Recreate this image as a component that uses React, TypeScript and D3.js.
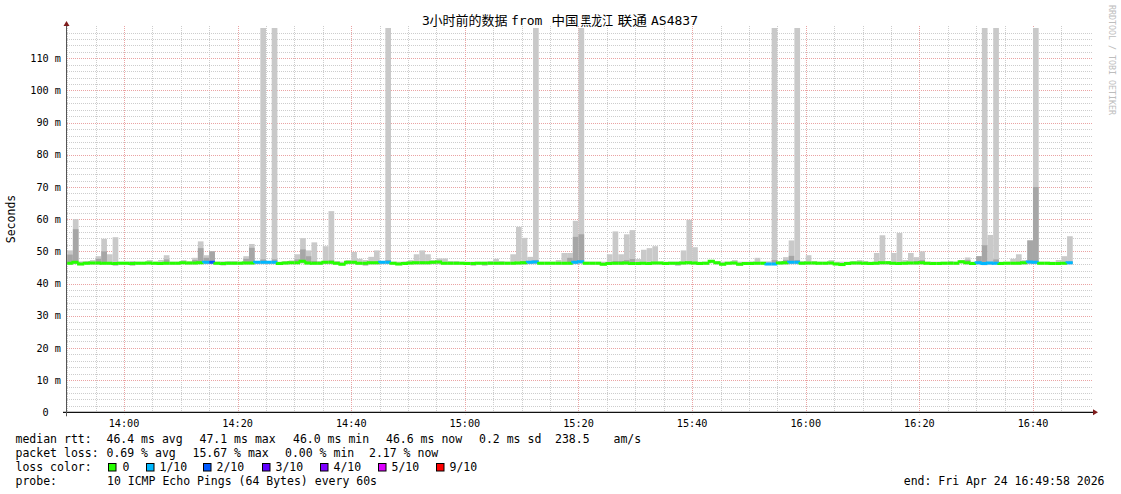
import React from "react";
import * as d3 from "d3";

const W = 1121;
const H = 494;

const startTime = new Date(2026, 3, 24, 13, 49, 58);
const endTime = new Date(2026, 3, 24, 16, 49, 58);
const firstBar = new Date(2026, 3, 24, 13, 50, 0);

// median RTT per minute (ms)
const medianRtt = [
  46.3, 46.6, 46.1, 46.3, 46.4, 46.4, 46.3, 46.3, 46.2, 46.3,
  46.3, 46.2, 46.3, 46.3, 46.4, 46.3, 46.2, 46.3, 46.3, 46.3,
  46.5, 46.4, 46.4, 46.5, 46.6, 46.6, 46.3, 46.2, 46.3, 46.3,
  46.3, 46.4, 46.4, 46.6, 46.6, 46.6, 46.6, 46.2, 46.4, 46.5,
  46.5, 46.9, 46.4, 46.3, 46.3, 46.6, 46.6, 46.3, 46.0, 46.6,
  46.6, 46.3, 46.3, 46.5, 46.5, 46.6, 46.6, 46.3, 46.1, 46.2,
  46.4, 46.5, 46.5, 46.5, 46.6, 46.7, 46.3, 46.3, 46.3, 46.3,
  46.2, 46.2, 46.3, 46.3, 46.3, 46.3, 46.3, 46.3, 46.3, 46.4,
  46.5, 46.6, 46.7, 46.3, 46.3, 46.3, 46.3, 46.3, 46.3, 46.6,
  46.8, 46.3, 46.3, 46.3, 46.0, 46.2, 46.3, 46.3, 46.4, 46.2,
  46.2, 46.3, 46.2, 46.4, 46.4, 46.2, 46.3, 46.3, 46.4, 46.5,
  46.4, 46.2, 46.3, 46.9, 46.5, 46.0, 46.3, 46.4, 46.0, 46.2,
  46.2, 46.3, 46.3, 46.1, 46.1, 46.4, 46.5, 46.6, 46.6, 46.3,
  46.4, 46.4, 46.3, 46.3, 46.4, 46.1, 45.9, 46.2, 46.4, 46.4,
  46.3, 46.2, 46.3, 46.5, 46.5, 46.3, 46.2, 46.3, 46.4, 46.4,
  46.5, 46.3, 46.2, 46.2, 46.3, 46.3, 46.3, 46.8, 46.5, 46.2,
  46.5, 46.2, 46.4, 46.3, 46.2, 46.3, 46.3, 46.3, 46.5, 46.7,
  46.6, 46.3, 46.3, 46.2, 46.2, 46.3, 46.5,
];

// highest ping per minute (outer smoke)
const smokeMax = [
  50.3, 60.0, 46.9, 47.0, 47.3, 48.5, 53.9, 49.1, 54.4, 46.8,
  46.8, 47.0, 46.8, 46.8, 47.3, 46.8, 47.3, 48.8, 46.8, 46.8,
  47.3, 46.9, 48.0, 53.1, 48.8, 50.0, 46.8, 46.9, 47.0, 47.0,
  46.8, 48.5, 52.3, 47.0, 125, 47.0, 125, 46.8, 47.0, 47.2,
  49.1, 54.1, 50.3, 52.8, 47.0, 51.6, 62.5, 47.0, 46.8, 47.3,
  49.8, 47.7, 47.3, 48.3, 50.3, 47.0, 125, 46.8, 46.8, 46.9,
  47.3, 49.1, 50.3, 49.1, 47.3, 47.8, 47.8, 47.0, 47.0, 46.8,
  46.8, 46.8, 46.8, 46.8, 47.0, 47.7, 47.0, 46.8, 49.1, 57.6,
  54.2, 48.3, 125, 46.8, 46.8, 46.8, 47.3, 49.5, 49.5, 59.5,
  125, 46.8, 46.8, 46.8, 46.8, 49.1, 56.2, 49.1, 55.3, 56.6,
  47.6, 50.5, 51.0, 51.6, 46.8, 46.8, 46.8, 46.8, 50.3, 59.8,
  51.3, 46.8, 46.8, 47.2, 46.8, 46.8, 46.8, 47.3, 46.8, 46.8,
  46.9, 48.0, 46.8, 46.9, 125, 47.0, 48.2, 53.4, 125, 47.0,
  48.8, 47.0, 46.8, 46.8, 47.3, 46.8, 46.8, 46.8, 47.0, 47.3,
  47.0, 46.8, 49.5, 55.0, 47.0, 49.5, 55.7, 47.3, 49.5, 48.2,
  50.0, 46.8, 46.8, 46.8, 46.8, 47.0, 46.8, 47.2, 48.1, 46.8,
  48.5, 125, 55.1, 125, 46.8, 46.8, 47.7, 49.1, 47.3, 53.4,
  125, 46.8, 46.8, 46.8, 47.3, 48.5, 54.7,
];

// inner smoke upper bound per minute
const smokeMid = [
  49.0, 56.9, 46.4, 46.6, 46.7, 47.7, 50.0, 46.6, 46.5, 46.6,
  46.6, 46.5, 46.6, 46.6, 46.7, 46.6, 46.5, 47.5, 46.6, 46.6,
  46.8, 46.7, 47.3, 51.0, 48.0, 50.0, 46.6, 46.5, 46.6, 46.6,
  46.6, 47.7, 51.1, 46.9, 47.5, 46.9, 47.5, 46.5, 46.7, 46.8,
  47.5, 50.6, 48.5, 47.0, 46.6, 46.9, 47.2, 46.6, 46.3, 46.9,
  46.9, 46.6, 46.6, 46.8, 46.8, 46.9, 47.3, 46.6, 46.4, 46.5,
  46.7, 46.8, 46.9, 46.8, 46.9, 47.0, 46.6, 46.6, 46.6, 46.6,
  46.5, 46.5, 46.6, 46.6, 46.6, 46.6, 46.6, 46.6, 46.6, 46.7,
  47.0, 46.9, 47.3, 46.6, 46.6, 46.6, 46.6, 46.6, 48.0, 54.5,
  55.3, 46.6, 46.6, 46.6, 46.3, 46.6, 47.0, 47.0, 47.3, 47.6,
  46.5, 46.6, 46.5, 46.7, 46.7, 46.5, 46.6, 46.6, 46.7, 46.8,
  46.7, 46.5, 46.6, 47.2, 46.8, 46.3, 46.6, 46.7, 46.3, 46.5,
  46.5, 46.6, 46.6, 46.4, 47.3, 46.7, 47.3, 48.6, 47.3, 46.6,
  46.7, 46.7, 46.6, 46.6, 46.7, 46.4, 46.2, 46.5, 46.7, 46.7,
  46.6, 46.5, 46.6, 46.8, 46.8, 46.6, 46.5, 46.6, 46.7, 47.0,
  47.3, 46.6, 46.5, 46.5, 46.6, 46.6, 46.6, 47.1, 47.3, 46.5,
  48.5, 51.9, 46.7, 47.5, 46.5, 46.6, 46.6, 46.8, 46.8, 53.4,
  70.0, 46.6, 46.6, 46.5, 46.5, 46.6, 46.8,
];

// lowest ping per minute
const smokeMin = [
  45.9, 46.0, 45.7, 45.9, 45.9, 45.9, 45.9, 45.9, 45.5, 45.9,
  45.9, 45.5, 45.9, 45.9, 45.9, 45.9, 45.8, 45.9, 45.9, 45.9,
  46.0, 45.9, 45.9, 46.0, 46.0, 46.0, 45.9, 45.6, 45.9, 45.9,
  45.9, 45.9, 45.9, 46.0, 46.0, 46.0, 46.0, 45.8, 45.9, 46.0,
  46.0, 46.2, 45.9, 45.9, 45.9, 46.0, 46.0, 45.9, 45.6, 46.0,
  46.0, 45.9, 45.5, 45.9, 45.9, 46.0, 46.0, 45.9, 45.7, 45.8,
  45.9, 45.9, 45.9, 45.9, 46.0, 46.0, 45.9, 45.9, 45.9, 45.9,
  45.8, 45.5, 45.9, 45.5, 45.9, 45.9, 45.9, 45.9, 45.9, 45.9,
  45.9, 46.0, 46.0, 45.9, 45.9, 45.9, 45.9, 45.9, 45.9, 46.0,
  46.1, 45.9, 45.9, 45.9, 45.6, 45.8, 45.9, 45.9, 45.9, 45.8,
  45.8, 45.9, 45.8, 45.9, 45.9, 45.8, 45.9, 45.5, 45.9, 46.0,
  45.9, 45.8, 45.9, 46.3, 45.9, 45.6, 45.9, 45.9, 45.6, 45.8,
  45.8, 45.9, 45.9, 45.7, 45.7, 45.9, 45.9, 46.0, 46.0, 45.9,
  45.9, 45.9, 45.9, 45.9, 45.9, 45.7, 45.4, 45.8, 45.9, 45.9,
  45.9, 45.8, 45.9, 45.9, 45.9, 45.9, 45.8, 45.9, 45.9, 45.9,
  45.9, 45.9, 45.8, 45.8, 45.9, 45.9, 45.9, 46.2, 45.9, 45.8,
  45.9, 45.7, 45.8, 45.9, 45.8, 45.9, 45.9, 45.9, 45.9, 46.0,
  46.0, 45.9, 45.9, 45.8, 45.8, 45.9, 45.9,
];

// packets lost out of 10 per minute
const lossTenths = [
  0, 0, 0, 0, 0, 0, 0, 0, 0, 0,
  0, 0, 0, 0, 0, 0, 0, 0, 0, 0,
  0, 0, 0, 0, 1, 2, 0, 0, 0, 0,
  0, 0, 0, 1, 1, 1, 1, 0, 0, 0,
  0, 0, 0, 0, 0, 0, 0, 0, 0, 0,
  0, 0, 0, 0, 0, 1, 1, 0, 0, 0,
  0, 0, 0, 0, 0, 0, 0, 0, 0, 0,
  0, 0, 0, 0, 0, 0, 0, 0, 0, 0,
  0, 1, 1, 0, 0, 0, 0, 0, 0, 1,
  1, 0, 0, 0, 0, 0, 0, 0, 0, 0,
  0, 0, 0, 0, 0, 0, 0, 0, 0, 0,
  0, 0, 0, 0, 0, 0, 0, 0, 0, 0,
  0, 0, 0, 1, 1, 0, 0, 1, 1, 0,
  0, 0, 0, 0, 0, 0, 0, 0, 0, 0,
  0, 0, 0, 0, 0, 0, 0, 0, 0, 0,
  0, 0, 0, 0, 0, 0, 0, 0, 0, 0,
  1, 1, 1, 1, 0, 0, 0, 0, 0, 1,
  1, 0, 0, 0, 0, 0, 1,
];

const lossLevels = [0, 1, 2, 3, 4, 5, 9];
const lossLabels = ["0", "1/10", "2/10", "3/10", "4/10", "5/10", "9/10"];
const lossHex = ["#26ff00", "#00b8ff", "#0059ff", "#5e00ff", "#7e00ff", "#dd00ff", "#ff0000"];

const yTickValues = [0, 10, 20, 30, 40, 50, 60, 70, 80, 90, 100, 110];

const statsRtt = ["46.4 ms avg", "47.1 ms max", "46.0 ms min", "46.6 ms now", "0.2 ms sd", "238.5", "am/s"];
const statsLoss = ["0.69 % avg", "15.67 % max", "0.00 % min", "2.17 % now"];

const titleParts = ["3", "小时前的数据", "from", "中国", "黑龙江", "联通", "AS4837"];

const MONO = "'DejaVu Sans Mono', monospace";
const CJK = "'DejaVu Sans Mono', 'Noto Sans CJK SC', monospace";

function colorFor(loss: number) {
  let c = lossHex[0];
  lossLevels.forEach((lv, i) => {
    if (loss >= lv) c = lossHex[i];
  });
  return c;
}

export default function App() {
  const plotLeft = 67;
  const plotRight = 1089.6;
  const gridRight = 1093;
  const plotTop = 26;
  const x = d3.scaleTime().domain([startTime, endTime]).range([plotLeft, plotRight]);
  const y = d3.scaleLinear().domain([0, 119.4]).range([412.3, 28]);
  const y0 = y(0);

  const barTimes = medianRtt.map((_, i) => d3.timeMinute.offset(firstBar, i));
  const fmt = d3.timeFormat("%H:%M");

  const minorH = d3.range(2, 120, 2).filter((v) => v % 10 !== 0);
  const majorH = d3.range(10, 120, 10);
  const vTimes = d3.timeMinute.every(5)!.range(startTime, endTime);
  const labelTimes = vTimes.filter((t) => t.getMinutes() % 20 === 0);

  const rttX = [106.5, 199.5, 293, 386, 479, 555, 613.5];
  const lossX = [106.5, 192.5, 285, 369];
  const boxX = [108, 146, 203, 262, 320, 378, 436];
  const boxLabelX = [122.5, 159.5, 216.5, 275.5, 333.5, 391.5, 449.5];

  // title segment layout: [x, textLength or 0]
  const titleX = [422, 429.5, 511, 551.5, 580.5, 617.5, 651];
  const titleLen = [0, 78, 0, 27, 32.5, 29.5, 0];

  const rows = [443, 457, 471, 485];

  return (
    <svg
      width={W}
      height={H}
      style={{ position: "absolute", left: 0, top: 0, background: "#fff" }}
      fontFamily={MONO}
    >
      <defs>
        <clipPath id="plotclip">
          <rect x={plotLeft} y={28} width={plotRight - plotLeft} height={y0 - 28} />
        </clipPath>
      </defs>
      <rect x={0} y={0} width={W} height={H} fill="#fff" />

      {/* minor grid */}
      {minorH.map((v) => (
        <line key={"mh" + v} x1={plotLeft} x2={gridRight} y1={Math.round(y(v)) + 0.5} y2={Math.round(y(v)) + 0.5}
          stroke="#cdcdcd" strokeWidth={1} strokeDasharray="1,1" />
      ))}
      {vTimes.filter((t) => t.getMinutes() % 20 !== 0).map((t) => (
        <line key={"mv" + t.getTime()} x1={Math.round(x(t)) + 0.5} x2={Math.round(x(t)) + 0.5} y1={plotTop} y2={y0}
          stroke="#cdcdcd" strokeWidth={1} strokeDasharray="1,1" />
      ))}
      {/* major grid */}
      {majorH.map((v) => (
        <line key={"Mh" + v} x1={plotLeft} x2={gridRight} y1={Math.round(y(v)) + 0.5} y2={Math.round(y(v)) + 0.5}
          stroke="#eaa3a3" strokeWidth={1} strokeDasharray="1,1" />
      ))}
      {labelTimes.map((t) => (
        <line key={"Mv" + t.getTime()} x1={Math.round(x(t)) + 0.5} x2={Math.round(x(t)) + 0.5} y1={plotTop} y2={y0 + 2}
          stroke="#eaa3a3" strokeWidth={1} strokeDasharray="1,1" />
      ))}

      {/* smoke */}
      <g clipPath="url(#plotclip)">
        {barTimes.map((t, i) => {
          const xa = x(t);
          const xb = x(d3.timeMinute.offset(t, 1));
          return (
            <g key={"s" + i}>
              <rect x={xa} y={y(smokeMax[i])} width={xb - xa} height={y(smokeMin[i]) - y(smokeMax[i])} fill="#c9c9c9" />
              <rect x={xa} y={y(smokeMid[i])} width={xb - xa} height={Math.max(0, y(smokeMin[i] + 0.3) - y(smokeMid[i]))} fill="#a6a6a6" />
            </g>
          );
        })}
        {/* median line coloured by loss */}
        {barTimes.map((t, i) => {
          const xa = x(t);
          const xb = x(d3.timeMinute.offset(t, 1));
          const yPrev = y(medianRtt[i > 0 ? i - 1 : i]);
          const yCur = y(medianRtt[i]);
          return (
            <path key={"m" + i} d={`M${xa},${yPrev}V${yCur}H${xb}`} fill="none"
              stroke={colorFor(lossTenths[i])} strokeWidth={3} />
          );
        })}
      </g>

      {/* axes */}
      <line x1={63} x2={1094} y1={y0} y2={y0} stroke="#111" strokeWidth={1.3} />
      <path d={`M1093,${y0 - 3}L1098,${y0}L1093,${y0 + 3}Z`} fill="#7f1d1d" />
      <line x1={plotLeft - 0.5} x2={plotLeft - 0.5} y1={y0 + 4} y2={23} stroke="#555" strokeWidth={1} />
      <path d={`M${plotLeft - 3.5},26L${plotLeft - 0.5},21L${plotLeft + 2.5},26Z`} fill="#7f1d1d" />

      {/* y tick labels */}
      {yTickValues.map((v) => (
        <text key={"yl" + v} x={61} y={y(v) + 3.6} fontSize={10.2} textAnchor="end" fill="#000" xmlSpace="preserve"
          style={{ whiteSpace: "pre" }}>
          {v === 0 ? "0  " : `${v} m`}
        </text>
      ))}
      {/* x tick labels */}
      {labelTimes.map((t) => (
        <text key={"xl" + t.getTime()} x={x(t)} y={426.5} fontSize={10.2} textAnchor="middle" fill="#000">
          {fmt(t)}
        </text>
      ))}

      {/* title */}
      {titleParts.map((s, i) => (
        <text key={"t" + i} x={titleX[i]} y={25} fontSize={13} fill="#000" fontFamily={CJK}
          {...(titleLen[i] ? { textLength: titleLen[i], lengthAdjust: "spacingAndGlyphs" } : {})}>
          {s}
        </text>
      ))}

      {/* y axis label */}
      <text transform="translate(15,219) rotate(-90)" fontSize={11.5} textAnchor="middle" fill="#000">Seconds</text>

      {/* watermark */}
      <text transform="translate(1108.5,5) rotate(90)" fontSize={8.3} fill="#bdbdbd">RRDTOOL / TOBI OETIKER</text>

      {/* legend */}
      <g fontSize={11.5} fill="#000">
        <text x={15.5} y={rows[0]}>median rtt:</text>
        {statsRtt.map((s, i) => (
          <text key={"r" + i} x={rttX[i]} y={rows[0]}>{s}</text>
        ))}
        <text x={15.5} y={rows[1]}>packet loss:</text>
        {statsLoss.map((s, i) => (
          <text key={"l" + i} x={lossX[i]} y={rows[1]}>{s}</text>
        ))}
        <text x={15.5} y={rows[2]}>loss color:</text>
        {lossLabels.map((s, i) => (
          <g key={"b" + i}>
            <rect x={boxX[i] + 0.5} y={rows[2] - 7.5} width={7.5} height={7.5} fill={lossHex[i]} stroke="#000" strokeWidth={1} />
            <text x={boxLabelX[i]} y={rows[2]}>{s}</text>
          </g>
        ))}
        <text x={15.5} y={rows[3]}>probe:</text>
        <text x={107} y={rows[3]}>10 ICMP Echo Pings (64 Bytes) every 60s</text>
        <text x={1104.5} y={rows[3]} textAnchor="end">end: Fri Apr 24 16:49:58 2026</text>
      </g>
    </svg>
  );
}
